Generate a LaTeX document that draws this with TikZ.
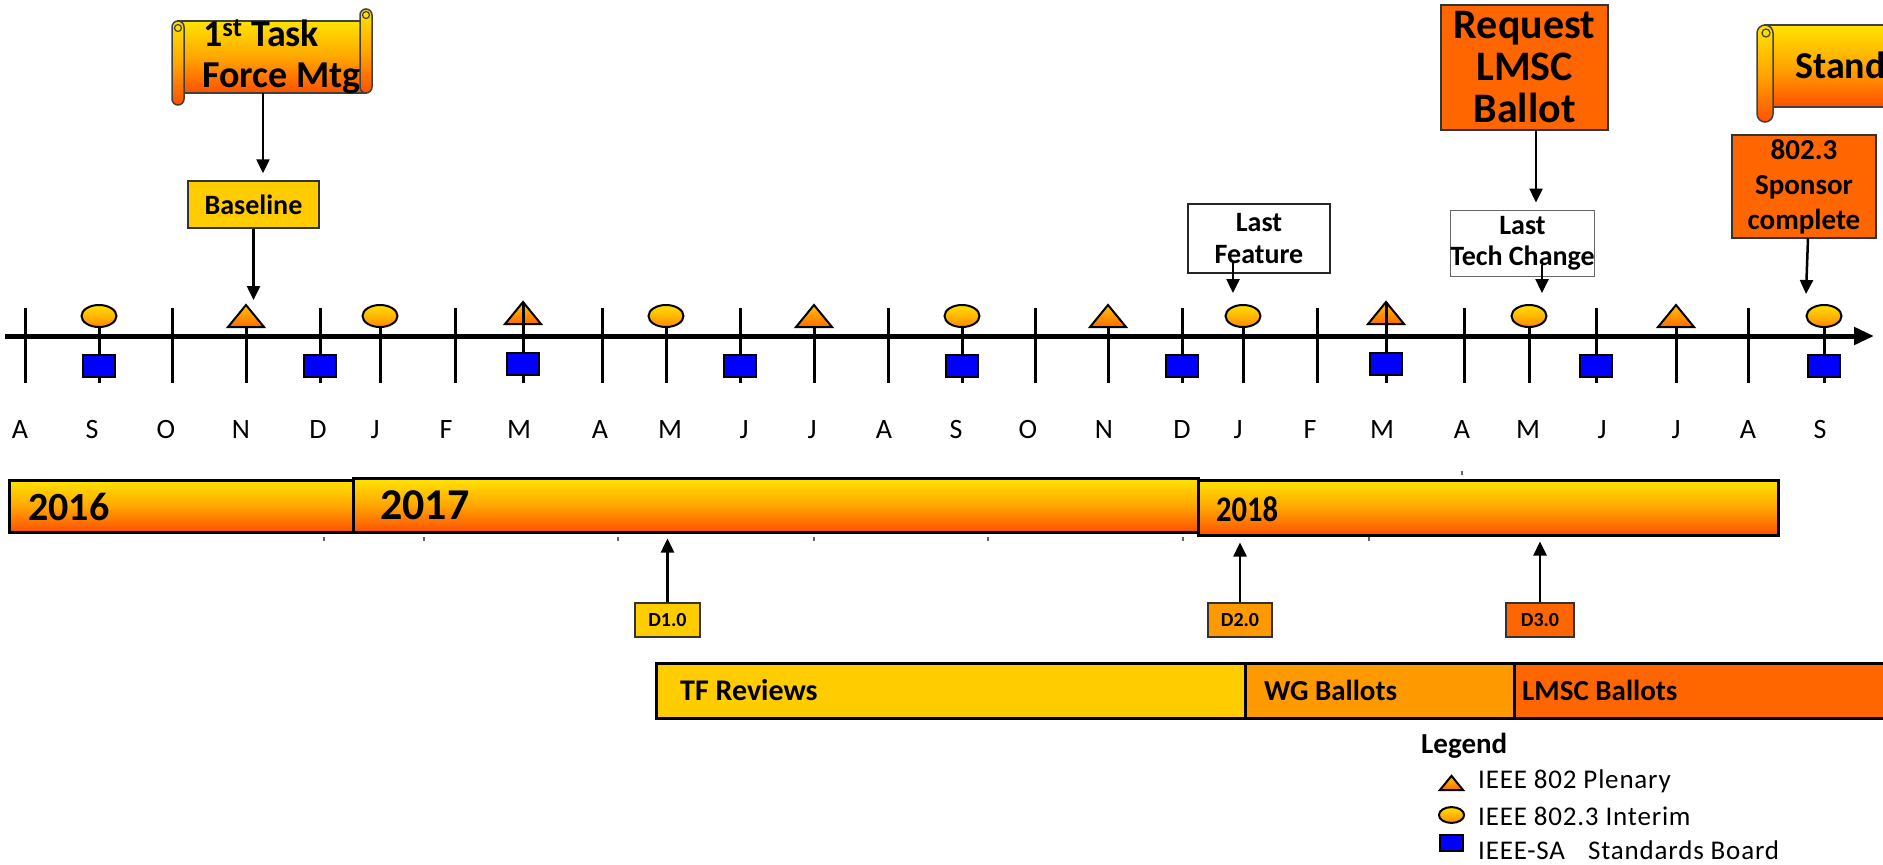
\documentclass[tikz,border=0pt]{standalone}
\usepackage{fontspec}
\setmainfont{Carlito}
\newfontfamily\lgfont[LetterSpace=3]{Carlito}
\usetikzlibrary{arrows.meta,shapes.geometric,calc}
\definecolor{gold}{HTML}{FFCC00}
\definecolor{orng}{HTML}{FF9900}
\definecolor{dorng}{HTML}{FF6600}
\definecolor{gtop}{HTML}{FFE400}
\definecolor{gmid}{HTML}{FFA600}
\definecolor{gbot}{HTML}{FF5000}
\definecolor{etop}{HTML}{FFE000}
\definecolor{ebot}{HTML}{FF8A00}
\definecolor{ttop}{HTML}{FFC400}
\definecolor{tbot}{HTML}{FF6A00}
\definecolor{sqblue}{HTML}{0000FF}
\newcommand{\fsz}[2]{\fontsize{#1}{#2}\selectfont}
\tikzset{
  pics/plen/.style={code={\path[draw=black,line width=2pt,top color=ttop,bottom color=tbot] (-18,11) -- (0,-11) -- (18,11) -- cycle;}},
  pics/intr/.style={code={\path[draw=black,line width=2pt,top color=etop,bottom color=ebot] (0,0) ellipse [x radius=17.5pt,y radius=11pt];}},
  pics/sbd/.style={code={\path[draw=black,line width=2pt,fill=sqblue] (-16,-11) rectangle (16,11);}},
}
\begin{document}
\begin{tikzpicture}[x=1pt,y=-1pt,
  grad/.style={top color=gtop,bottom color=gbot,middle color=gmid},
  sepl/.style={line width=3pt,black},
  arr/.style={-{Triangle[length=14pt,width=13pt]},line width=2.5pt,black},
  bx/.style={draw=black!80,line width=1.5pt,inner sep=0pt,align=center},
  ybar/.style={grad,draw=black,line width=3pt},
  pbar/.style={draw=black,line width=3pt},
  mon/.style={font={\fsz{28}{32}}},
  scr/.style={grad,draw=black!75,line width=1.5pt},
  lbl/.style={anchor=west,inner sep=0pt},
  speck/.style={line width=1.2pt,black!60},
]
\useasboundingbox (0,0) rectangle (1883,865);
\clip (0,0) rectangle (1883,865);
\fill[white] (0,0) rectangle (1883,865);

% ---------- scroll: 1st Task Force Mtg
\path[scr] (178,21) rectangle (366,93);
\path[scr,rounded corners=6pt] (360,9) rectangle (372,93);
\path[scr,rounded corners=6pt] (172,21) rectangle (184,105);
\draw[black!75,line width=1.2pt] (178,28) circle[radius=3.5pt];
\draw[black!75,line width=1.2pt] (366,15) circle[radius=3.5pt];
\node[anchor=base west,inner sep=0pt,font={\bfseries\fsz{38}{42}}] (tfa) at (203,46) {1\textsuperscript{st} Task};
\node[anchor=base west,inner sep=0pt,font={\bfseries\fsz{38}{42}}] (tfb) at (202,87) {Force Mtg};
\coordinate (scrA) at (263,93);

% ---------- scroll: Standard (cut off at right)
\path[scr] (1765,25) rectangle (1990,107);
\path[scr,rounded corners=8pt] (1757,25) rectangle (1773,122);
\draw[black!75,line width=1.2pt] (1766,33) circle[radius=4pt];
\node[anchor=base west,inner sep=0pt,font={\bfseries\fsz{38}{44}}] (std) at (1795,78) {Standard};

% ---------- boxes above the axis
\node[bx,fill=gold,minimum width=131pt,minimum height=47pt,font={\bfseries\fsz{28}{32}}] (bl) at (253.5,204.5) {Baseline};
\node[bx,fill=dorng,minimum width=167pt,minimum height=125pt,font={\bfseries\fsz{42}{42}}] (req) at (1524.5,67.5) {Request\\LMSC\\Ballot};
\node[bx,fill=white,draw=black!85,minimum width=142pt,minimum height=69pt,font={\bfseries\fsz{28}{32}}] (lf) at (1259,238.5) {Last\\Feature};
\node[bx,fill=white,draw=black!60,line width=1pt,minimum width=143pt,minimum height=66pt,font={\bfseries\fsz{28}{31}}] (ltc) at (1522.5,243) {Last\\Tech Change};
\node[bx,fill=dorng,minimum width=144pt,minimum height=103pt,font={\bfseries\fsz{29}{35}}] (spc) at (1804,186.5) {802.3\\Sponsor\\complete};

% ---------- axis
\coordinate (ax0) at (5,336);
\coordinate (ax1) at (1874,336);
\draw[line width=5pt,-{Triangle[length=20pt,width=17pt]}] (ax0) -- (ax1);
\foreach \x in {25,172,320,455,602,740,888,1035,1182,1317,1464,1596,1748}
  \draw[sepl] (\x,308) -- (\x,383);
\foreach \x in {99,246,380,523,666,814,962,1108,1243,1386,1529,1676,1824}
  \draw[sepl] (\x,318) -- (\x,383);
\foreach \x in {99,380,666,962,1243,1529,1824}
  \pic at (\x,316) {intr};
\foreach \x in {246,814,1108,1676}
  \pic at (\x,316) {plen};
\foreach \x in {523,1386}{
  \pic at (\x,313) {plen};
  \draw[sepl] (\x,302) -- (\x,330);
}
\foreach \x in {99,320,740,962,1182,1596,1824}
  \pic at (\x,366) {sbd};
\foreach \x in {523,1386}
  \pic at (\x,364) {sbd};

% arrow targets
\coordinate (tipN) at (253.5,300);
\coordinate (lfA) at (1233,262);
\coordinate (tipJ) at (1233,293);
\coordinate (ltcA) at (1542,265);
\coordinate (tipM) at (1542,293);
\coordinate (reqA) at (1536,130);
\coordinate (spcA) at (1808,238);
\coordinate (tipS) at (1806,294);

\draw[arr,shorten >=7pt] (scrA) -- (scrA |- bl.north);
\draw[arr] (bl.south) -- (tipN);
\draw[arr,shorten >=7pt] (reqA) -- (reqA |- ltc.north);
\draw[arr] (lfA) -- (tipJ);
\draw[arr] (ltcA) -- (tipM);
\draw[arr] (spcA) -- (tipS);

% ---------- month letters
\foreach \x/\m in {20/A,92/S,166/O,241/N,318/D,375/J,446/F,519/M,600/A,670/M,744/J,812/J,884/A,956/S,1028/O,1104/N,1182/D,1238/J,1310/F,1382/M,1462/A,1528/M,1602/J,1676/J,1748/A,1820/S}
  \node[mon] at (\x,430) {\m};

% ---------- year bars
\node[ybar,minimum width=344pt,minimum height=52pt,inner sep=0pt] (y16) at (181,506) {};
\node[ybar,minimum width=845pt,minimum height=54pt,inner sep=0pt] (y17) at (775.5,505) {};
\node[ybar,minimum width=580pt,minimum height=55pt,inner sep=0pt] (y18) at (1488,507.5) {};
\node[lbl,font={\bfseries\fsz{40}{44}}] (t16) at (28,507) {2016};
\node[lbl,font={\bfseries\fsz{44}{48}}] (t17) at (380,505) {2017};
\node[lbl,font={\bfseries\fsz{36}{40}},xscale=0.85] (t18) at (1216,509) {2018};
\foreach \x in {324,424,618,814,988,1183,1369}
  \draw[speck] (\x,537) -- (\x,541);
\draw[speck] (1462,471) -- (1462,475);

% ---------- drafts
\node[bx,fill=gold,minimum width=65pt,minimum height=34pt,font={\bfseries\fsz{20}{24}}] (d1) at (667.5,620) {D1.0};
\node[bx,fill=orng,minimum width=64pt,minimum height=34pt,font={\bfseries\fsz{20}{24}}] (d2) at (1240,620) {D2.0};
\node[bx,fill=dorng,minimum width=68pt,minimum height=34pt,font={\bfseries\fsz{20}{24}}] (d3) at (1540,620) {D3.0};
\draw[arr,shorten >=5pt] (d1.north) -- (d1.north |- y17.south);
\draw[arr,shorten >=6pt] (d2.north) -- (d2.north |- y18.south);
\draw[arr,shorten >=5pt] (d3.north) -- (d3.north |- y18.south);

% ---------- ballot phases
\node[pbar,fill=gold,minimum width=589pt,minimum height=55pt,inner sep=0pt] (tfr) at (950.5,690.5) {};
\node[pbar,fill=orng,minimum width=269pt,minimum height=55pt,inner sep=0pt] (wgb) at (1379.5,690.5) {};
\node[pbar,fill=dorng,minimum width=386pt,minimum height=55pt,inner sep=0pt] (lmb) at (1707,690.5) {};
\node[lbl,font={\bfseries\fsz{30}{34}}] (tft) at (680,690) {TF Reviews};
\node[lbl,font={\bfseries\fsz{29}{34}}] (wgt) at (1264,690) {WG Ballots};
\node[lbl,font={\bfseries\fsz{29}{34}}] (lmt) at (1522,690) {LMSC Ballots};

% ---------- legend
\node[lbl,font={\bfseries\fsz{29}{32}}] (lg) at (1421,746) {Legend};
\pic[scale=0.65] at (1451.5,783) {plen};
\pic[scale=0.72] at (1451.5,815) {intr};
\pic[scale=0.72] at (1451.5,843) {sbd};
\node[lbl,font={\lgfont\fsz{27}{30}}] (lg1) at (1478,781) {IEEE 802 Plenary};
\node[lbl,font={\lgfont\fsz{27}{30}}] (lg2) at (1478,816) {IEEE 802.3 Interim};
\node[lbl,font={\lgfont\fsz{27}{30}}] (lg3) at (1478,850) {IEEE-SA\hspace{0.6em} Standards Board};
\end{tikzpicture}
\end{document}
